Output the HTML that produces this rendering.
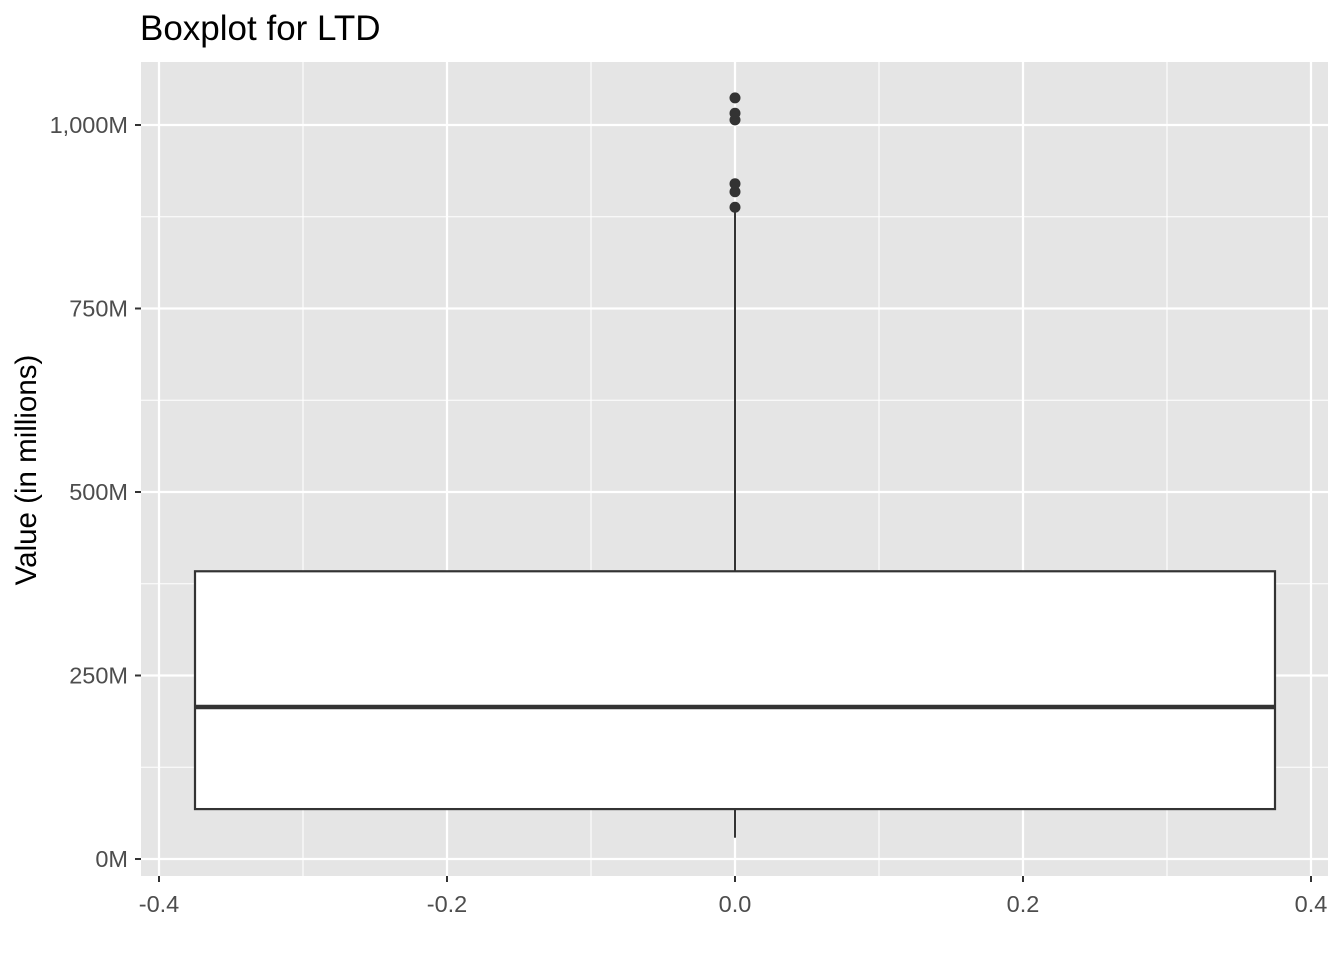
<!DOCTYPE html>
<html><head><meta charset="utf-8"><style>
body{margin:0;background:#fff;}
svg text{font-family:"Liberation Sans",Arial,sans-serif;}
</style></head><body>
<svg id="chart" width="1344" height="960">
<text x="140" y="40" font-size="35" fill="#000">Boxplot for LTD</text>
<rect x="141" y="62" width="1187" height="814" fill="#e5e5e5"/>
<g id="grid"></g>
<g id="marks"></g>
<g id="axes"></g>
<text transform="translate(36,470) rotate(-90)" text-anchor="middle" font-size="29.5" fill="#000">Value (in millions)</text>
</svg>
<script>
const yTicks=[0,250,500,750,1000];
const yTickLabels=["0M","250M","500M","750M","1,000M"];
const xTicks=[-0.4,-0.2,0,0.2,0.4];
const xTickLabels=["-0.4","-0.2","0.0","0.2","0.4"];
const boxStats=[29,68,207,392,888]; // min, q1, median, q3, max whisker
const outliers=[888,909,920,1007,1016,1037];
const boxX=0, boxHalfWidth=0.375;

const X=v=>735+v*1440;
const Y=v=>859-v*0.734;
const NS="http://www.w3.org/2000/svg";
function mk(parent,tag,attrs){const e=document.createElementNS(NS,tag);for(const k in attrs)e.setAttribute(k,attrs[k]);document.getElementById(parent).appendChild(e);return e;}

for(let i=0;i<yTicks.length-1;i++){const m=(yTicks[i]+yTicks[i+1])/2;
 const l=mk('grid','line',{x1:141,x2:1328,y1:Y(m),y2:Y(m),stroke:'#fff','stroke-width':1.1});
 
 }
for(let i=0;i<xTicks.length-1;i++){const m=(xTicks[i]+xTicks[i+1])/2;
 const l=mk('grid','line',{y1:62,y2:876,x1:X(m),x2:X(m),stroke:'#fff','stroke-width':1.1});
 
 }
yTicks.forEach((t,i)=>{
 const l=mk('grid','line',{x1:141,x2:1328,y1:Y(t),y2:Y(t),stroke:'#fff','stroke-width':2.2});
 
 
 const k=mk('axes','line',{x1:135,x2:141,y1:Y(t),y2:Y(t),stroke:'#333','stroke-width':2});
 
 
 const tx=mk('axes','text',{x:128,y:Y(t)+8,'text-anchor':'end','font-size':23.5,fill:'#4d4d4d'});
 tx.textContent=yTickLabels[i];
 
 
});
xTicks.forEach((t,i)=>{
 const l=mk('grid','line',{y1:62,y2:876,x1:X(t),x2:X(t),stroke:'#fff','stroke-width':2.2});
 
 
 const k=mk('axes','line',{y1:876,y2:882,x1:X(t),x2:X(t),stroke:'#333','stroke-width':2});
 
 
 const tx=mk('axes','text',{x:X(t),y:912,'text-anchor':'middle','font-size':23.5,fill:'#4d4d4d'});
 tx.textContent=xTickLabels[i];
 
 
});
const w1=mk('marks','line',{x1:X(boxX),x2:X(boxX),y1:Y(boxStats[0]),y2:Y(boxStats[1]),stroke:'#333','stroke-width':2});


const w2=mk('marks','line',{x1:X(boxX),x2:X(boxX),y1:Y(boxStats[3]),y2:Y(boxStats[4]),stroke:'#333','stroke-width':2});


const b=mk('marks','rect',{x:X(boxX-boxHalfWidth),y:Y(boxStats[3]),width:X(boxX+boxHalfWidth)-X(boxX-boxHalfWidth),height:Y(boxStats[1])-Y(boxStats[3]),fill:'#fff',stroke:'#333','stroke-width':2.2});


const md=mk('marks','line',{x1:X(boxX-boxHalfWidth),x2:X(boxX+boxHalfWidth),y1:Y(boxStats[2]),y2:Y(boxStats[2]),stroke:'#333','stroke-width':4.5});


outliers.forEach(o=>{
 const c=mk('marks','circle',{cx:X(boxX),cy:Y(o),r:5.5,fill:'#333'});
 
 
});
</script>
</body></html>
